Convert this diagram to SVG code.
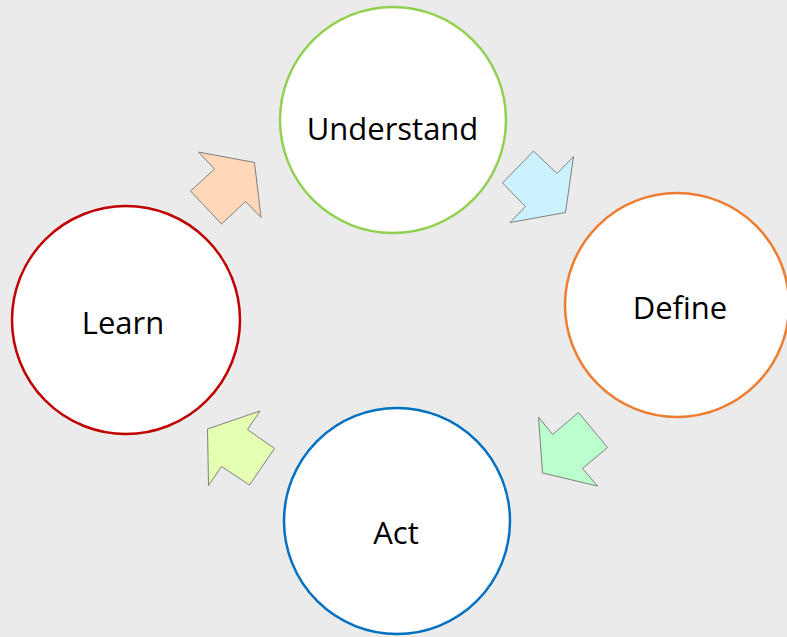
<svg xmlns="http://www.w3.org/2000/svg" width="787" height="637" viewBox="0 0 787 637">
<style>
.c{fill:#fff;stroke-width:2.5}
.t{font-family:"Open Sans","Noto Sans",sans-serif;font-size:31px;fill:#000;text-anchor:middle}
.a{stroke:#7f7f7f;stroke-width:1;stroke-linejoin:miter}
</style>
<rect width="787" height="637" fill="#ebebeb"/>
<g id="connectors">
<polygon class="a" fill="#fed8b8" points="198.5,152 254.5,162.5 261,217.5 245.5,201.5 221.5,224 190.5,191 214.5,169"/>
<polygon class="a" fill="#ccf2ff" points="533.5,151 557,173.5 573.5,156.5 565.5,212.5 510,222.5 525.5,206.5 502.5,183"/>
<polygon class="a" fill="#bbffcc" points="538.5,417 552.5,434.5 578.5,412.5 607.5,447.5 582.5,468.5 597.5,486 542.5,473"/>
<polygon class="a" fill="#e5ffb3" points="260,411 247.5,429.5 274.5,448.5 249.5,485 221.5,466.5 208.5,485.5 207.5,429"/>
</g>
<g id="understand">
<circle class="c" cx="393" cy="120" r="113" stroke="#92d050"/>
<text class="t" x="392.5" y="140">Understand</text>
</g>
<g id="define">
<circle class="c" cx="677" cy="305" r="112" stroke="#ed7d31"/>
<text class="t" x="680" y="319">Define</text>
</g>
<g id="act">
<circle class="c" cx="397" cy="521" r="113" stroke="#0070c0"/>
<text class="t" x="396" y="544">Act</text>
</g>
<g id="learn">
<circle class="c" cx="126" cy="320" r="114" stroke="#c00000"/>
<text class="t" x="123" y="334">Learn</text>
</g>
</svg>
